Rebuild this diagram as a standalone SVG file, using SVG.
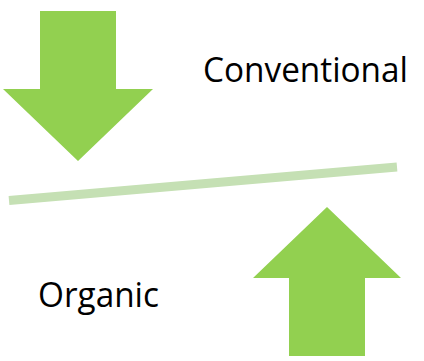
<svg xmlns="http://www.w3.org/2000/svg" width="424" height="361" viewBox="0 0 424 361">
<style>
.arrow{fill:#92d050}
.lbl{font-family:"Open Sans","Noto Sans","Liberation Sans",sans-serif;font-size:34px;fill:#000}
</style>
<rect width="424" height="361" fill="#fff"/>
<g id="connectors">
<line x1="9" y1="200.5" x2="397" y2="167" stroke="#c5e0b4" stroke-width="9"/>
</g>
<g id="down-arrow">
<polygon class="arrow" points="40,11 116,11 116,89 153,89 78,161 3,89 40,89"/>
</g>
<g id="up-arrow">
<polygon class="arrow" points="327,207 401,278 365,278 365,356 289,356 289,278 253,278"/>
</g>
<g id="conventional">
<text class="lbl" x="203" y="81.5" textLength="205" lengthAdjust="spacingAndGlyphs">Conventional</text>
</g>
<g id="organic">
<text class="lbl" x="38" y="306.5" textLength="121" lengthAdjust="spacingAndGlyphs">Organic</text>
</g>
</svg>
